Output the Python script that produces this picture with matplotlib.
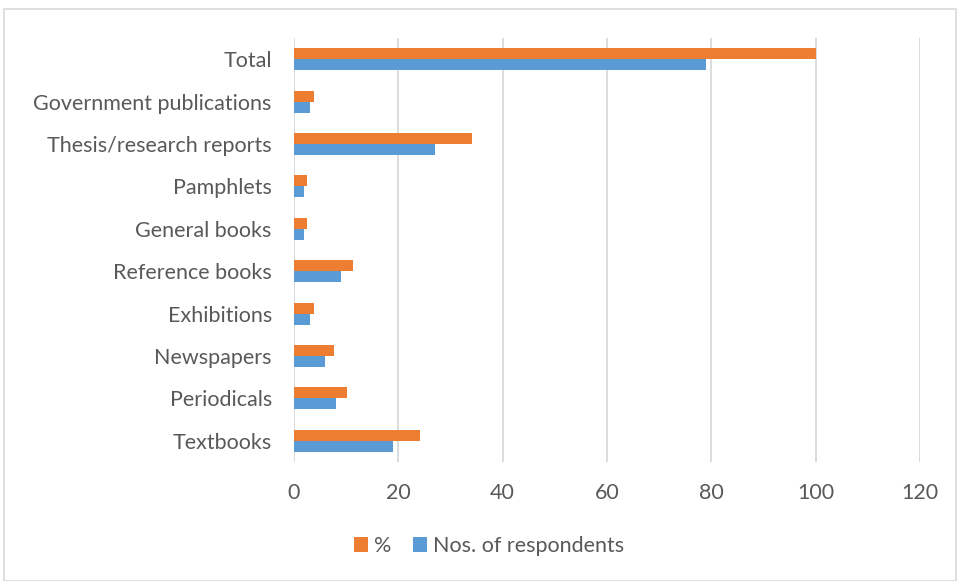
import matplotlib.pyplot as plt
import numpy as np
from matplotlib.patches import Rectangle

categories = ['Textbooks', 'Periodicals', 'Newspapers', 'Exhibitions', 'Reference books',
              'General books', 'Pamphlets', 'Thesis/research reports',
              'Government publications', 'Total']
respondents = [19, 8, 6, 3, 9, 2, 2, 27, 3, 79]
percent = [24.1, 10.1, 7.6, 3.8, 11.4, 2.5, 2.5, 34.2, 3.8, 100]
xticks = [0, 20, 40, 60, 80, 100, 120]

plt.rcParams['font.family'] = ['Lato', 'DejaVu Sans']
text_color = '#595959'

fig = plt.figure(figsize=(9.57, 5.81), dpi=100)
fig.patches.append(Rectangle((0.004, 0.0), 0.995, 0.984, transform=fig.transFigure,
                             fill=False, edgecolor='#d9d9d9', linewidth=1.2))
ax = fig.add_axes([0.3072, 0.2048, 0.6541, 0.7298])

y = np.arange(len(categories))
h = 0.26
ax.barh(y + h / 2, percent, height=h, color='#ED7D31', label='%', zorder=3)
ax.barh(y - h / 2, respondents, height=h, color='#5B9BD5', label='Nos. of respondents', zorder=3)

ax.set_xlim(0, 120)
ax.set_ylim(-0.5, len(categories) - 0.5)
ax.set_xticks(xticks)
ax.set_yticks(y)
ax.set_yticklabels(categories)
ax.grid(axis='x', color='#d9d9d9', linewidth=1.3, zorder=0)
for s in ax.spines.values():
    s.set_visible(False)
ax.tick_params(length=0, labelsize=15.5, labelcolor=text_color)
ax.tick_params(axis='x', pad=15)
ax.tick_params(axis='y', pad=16)

fig.legend(loc='center', bbox_to_anchor=(0.511, 0.06), ncol=2, frameon=False,
           fontsize=15.5, labelcolor=text_color, handlelength=0.65, handleheight=0.65,
           handletextpad=0.3, columnspacing=1.0)

fig.savefig('out.png', dpi=100)
